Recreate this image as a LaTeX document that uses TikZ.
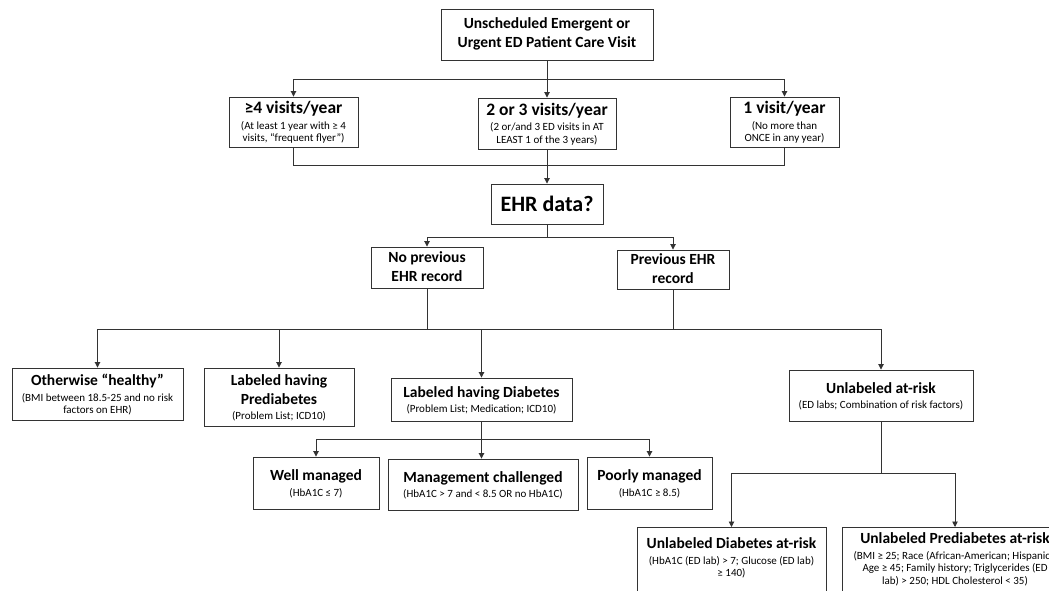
\documentclass[tikz,border=0pt]{standalone}
\usepackage{fontspec}
\setmainfont{Carlito}
\usetikzlibrary{arrows.meta}
\newcommand\tstrut{\rule[-5.5pt]{0pt}{19pt}}
\newcommand\sstrut{\rule[-2.5pt]{0pt}{12.5pt}}
\newcommand\bt[1]{{\fontsize{15.5}{0}\bfseries\tstrut #1}}
\newcommand\btbig[1]{{\fontsize{17.5}{0}\bfseries\tstrut #1}}
\newcommand\bs[1]{{\fontsize{11}{0}\selectfont\sstrut #1}}
\newcommand\tightlines{\lineskip=0pt\lineskiplimit=0pt\baselineskip=0pt\relax}
\tikzset{
  box/.style={draw=black!80, line width=0.9pt, inner sep=0pt, align=center, font=\tightlines, text=black},
  ln/.style={line width=0.9pt, draw=black!80},
  arr/.style={ln, -{Triangle[width=5.5pt,length=5.5pt]}}
}
\begin{document}
\begin{tikzpicture}[x=1pt,y=-1pt]
\useasboundingbox (0,0) rectangle (1049,591);
\fill[white] (0,0) rectangle (1049,591);
\clip (0,0) rectangle (1049,591);

\node[box, minimum width=212pt, minimum height=51pt] (top) at (547,34.5)
  {\bt{Unscheduled Emergent or}\\\bt{Urgent ED Patient Care Visit}};

\node[box, minimum width=129pt, minimum height=50pt] (v1) at (293.5,122)
  {\btbig{≥4 visits/year}\\\bs{(At least 1 year with ≥ 4}\\\bs{visits, “frequent flyer”)}};
\node[box, minimum width=138pt, minimum height=51pt] (v2) at (547,123.5)
  {\btbig{2 or 3 visits/year}\\\bs{(2 or/and 3 ED visits in AT}\\\bs{LEAST 1 of the 3 years)}};
\node[box, minimum width=109pt, minimum height=50pt] (v3) at (784.5,122)
  {\btbig{1 visit/year}\\\bs{(No more than}\\\bs{ONCE in any year)}};

\node[box, minimum width=112pt, minimum height=40pt] (ehr) at (547,204)
  {{\fontsize{22}{0}\bfseries EHR data?}};

\node[box, minimum width=112pt, minimum height=41pt] (nop) at (427,267.5)
  {\bt{No previous}\\\bt{EHR record}};
\node[box, minimum width=112pt, minimum height=39pt] (prev) at (673,269.5)
  {\bt{Previous EHR}\\\bt{record}};

\node[box, minimum width=171pt, minimum height=52pt] (healthy) at (97.5,394)
  {\bt{Otherwise “healthy”}\\\bs{(BMI between 18.5-25 and no risk}\\\bs{factors on EHR)}};
\node[box, minimum width=150pt, minimum height=58pt] (pre) at (279,397)
  {\bt{Labeled having}\\\bt{Prediabetes}\\\bs{(Problem List; ICD10)}};
\node[box, minimum width=181pt, minimum height=43pt] (diab) at (481.5,399.5)
  {\bt{Labeled having Diabetes}\\\bs{(Problem List; Medication; ICD10)}};
\node[box, minimum width=184pt, minimum height=51pt] (unl) at (881,395.5)
  {\bt{Unlabeled at-risk}\\\bs{(ED labs; Combination of risk factors)}};

\node[box, minimum width=126pt, minimum height=52pt] (well) at (316,483)
  {\bt{Well managed}\\\bs{(HbA1C ≤ 7)}};
\node[box, minimum width=190pt, minimum height=51pt] (mgmt) at (483,484.5)
  {\bt{Management challenged}\\\bs{(HbA1C > 7 and < 8.5 OR no HbA1C)}};
\node[box, minimum width=125pt, minimum height=52pt] (poor) at (649.5,483)
  {\bt{Poorly managed}\\\bs{(HbA1C ≥ 8.5)}};

\node[box, anchor=north, minimum width=189pt, inner ysep=8pt] (ud) at (731.5,527)
  {\bt{Unlabeled Diabetes at-risk}\\\bs{(HbA1C (ED lab) > 7; Glucose (ED lab)}\\\bs{≥ 140)}\\\bs{}\\\bs{}};
\node[box, anchor=north, minimum width=226pt, inner ysep=3pt] (up) at (955,527)
  {\bt{Unlabeled Prediabetes at-risk}\\\bs{(BMI ≥ 25; Race (African-American; Hispanic);}\\\bs{Age ≥ 45; Family history; Triglycerides (ED}\\\bs{lab) > 250; HDL Cholesterol < 35)}\\\bs{}\\\bs{}};

% connectors
\coordinate (j1) at (547,79);
\draw[ln] (top.south) -- (j1);
\draw[arr] (j1) -- (v2.north);
\draw[arr] (j1) -| (v1.north);
\draw[arr] (j1) -| (v3.north);

\coordinate (j2) at (547,165);
\draw[ln] (v1.south) |- (j2);
\draw[ln] (v3.south) |- (j2);
\draw[arr] (v2.south) -- (ehr.north);

\coordinate (j3) at (547,237);
\draw[ln] (ehr.south) -- (j3);
\draw[arr] (j3) -| (nop.north);
\draw[arr] (j3) -| (prev.north);

\coordinate (j4) at (427,329);
\draw[ln] (nop.south) -- (j4);
\draw[ln] (prev.south) |- (j4);
\draw[arr] (j4) -| (healthy.north);
\draw[arr] (j4) -| (pre.north);
\draw[arr] (j4) -| (diab.north);
\draw[arr] (j4) -| (unl.north);

\coordinate (j5) at (481.5,439);
\draw[ln] (diab.south) -- (j5);
\draw[arr] (j5) -| (well.north);
\draw[arr] (j5) -- (j5 |- mgmt.north);
\draw[arr] (j5) -| (poor.north);

\coordinate (j6) at (881,473);
\draw[ln] (unl.south) -- (j6);
\draw[arr] (j6) -| (ud.north);
\draw[arr] (j6) -| (up.north);
\end{tikzpicture}
\end{document}
